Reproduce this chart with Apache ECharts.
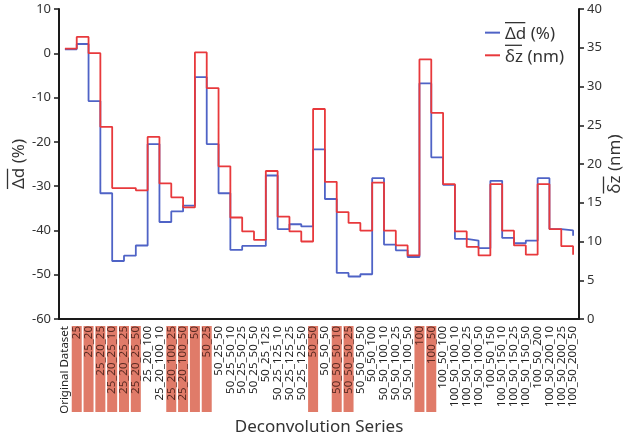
<!DOCTYPE html>
<html>
<head>
<meta charset="utf-8">
<script src="https://cdn.jsdelivr.net/npm/echarts@6/dist/echarts.min.js"></script>
<style>
  html, body { margin: 0; padding: 0; background: #fff; }
  #chart { width: 627px; height: 443px; }
</style>
</head>
<body>
<div id="chart"></div>
<script>
'use strict';

var categories = [
  'Original Dataset', '25', '25_20', '25_20_25', '25_20_25_10', '25_20_25_25', '25_20_25_50',
  '25_20_100', '25_20_100_10', '25_20_100_25', '25_20_100_50',
  '50', '50_25', '50_25_50', '50_25_50_10', '50_25_50_25', '50_25_50_50',
  '50_25_125', '50_25_125_10', '50_25_125_25', '50_25_125_50',
  '50_50', '50_50_50', '50_50_50_10', '50_50_50_25', '50_50_50_50',
  '50_50_100', '50_50_100_10', '50_50_100_25', '50_50_100_50',
  '100', '100_50', '100_50_100', '100_50_100_10', '100_50_100_25', '100_50_100_50',
  '100_50_150', '100_50_150_10', '100_50_150_25', '100_50_150_50',
  '100_50_200', '100_50_200_10', '100_50_200_25', '100_50_200_50'
];

// series picked out with a red box under the axis
var highlighted = [
  '25', '25_20', '25_20_25', '25_20_25_10', '25_20_25_25', '25_20_25_50',
  '25_20_100_25', '25_20_100_50', '50', '50_25',
  '50_50', '50_50_50_10', '50_50_50_25', '100', '100_50'
];

// mean relative change in d (%), left axis
var deltaD = [
  0.9, 2.1, -10.8, -31.6, -46.9, -45.7, -43.4, -20.5, -38.1, -35.7, -34.4,
  -5.4, -20.5, -31.6, -44.4, -43.5, -43.5, -27.6, -39.7, -38.6, -39.1,
  -21.7, -32.9, -49.6, -50.4, -49.9, -28.2, -43.2, -44.5, -46.0,
  -6.8, -23.5, -29.7, -41.9, -42.3, -44.0, -28.8, -41.7, -42.9, -42.3,
  -28.2, -39.7, -40.0, -41.2
];

// mean delta z (nm), right axis
var deltaZ = [
  34.9, 36.4, 34.3, 24.8, 16.9, 16.9, 16.6, 23.5, 17.5, 15.7, 14.4,
  34.4, 29.8, 19.7, 13.1, 11.3, 10.2, 19.1, 13.2, 11.3, 10.0,
  27.1, 17.7, 13.8, 12.4, 11.4, 17.6, 11.4, 9.5, 8.2,
  33.5, 26.6, 17.4, 11.3, 9.3, 8.2, 17.4, 11.4, 9.5, 8.3,
  17.4, 11.6, 9.4, 8.3
];

var nameD = 'Δd (%)';
var nameZ = 'δz (nm)';

var FONT = '"Noto Sans", "DejaVu Sans", sans-serif';
var NAME_SIZE = 17;
var BLUE = '#4f63c6';
var RED = '#e8393c';
var INK = '#333';

// width of the overlined symbol part ("Δd", "δz"), to size the bar above it
function textWidth(s) {
  var ctx = document.createElement('canvas').getContext('2d');
  ctx.font = NAME_SIZE + 'px ' + FONT;
  return ctx.measureText(s).width;
}

// two-line rich label: a thin bar, then the text
function overlined(name) {
  var sym = name.split(' ')[0];
  var key = sym === 'Δd' ? 'olD' : 'olZ';
  return '{' + key + '| }\n{t|' + name + '}';
}

var olRich = {
  olD: {width: textWidth('Δd') - 1, height: 1.3, lineHeight: 3, fontSize: 1, backgroundColor: INK, align: 'left'},
  olZ: {width: textWidth('δz') - 1, height: 1.3, lineHeight: 3, fontSize: 1, backgroundColor: INK, align: 'left'},
  t: {fontSize: NAME_SIZE, fontFamily: FONT, color: INK, align: 'left', lineHeight: 20}
};

var chart = echarts.init(document.getElementById('chart'), null, {renderer: 'canvas'});

var axisCommon = {
  axisLine: {show: true, lineStyle: {color: '#1a1a1a', width: 2}},
  axisTick: {show: true, length: 5, lineStyle: {color: '#1a1a1a', width: 1.5}},
  splitLine: {show: false},
  axisLabel: {color: INK, fontSize: 13, fontFamily: FONT},
  nameTextStyle: {color: INK, fontSize: NAME_SIZE, fontFamily: FONT, rich: olRich},
  nameLocation: 'middle',
  nameMoveOverlap: false
};

var option = {
  animation: false,
  backgroundColor: '#fff',
  textStyle: {fontFamily: FONT},
  grid: {left: 59, right: 48, top: 9, bottom: 124, containLabel: false, outerBoundsMode: 'none'},
  legend: {
    orient: 'vertical',
    left: 480,
    top: 17,
    itemGap: 2,
    itemWidth: 15,
    itemHeight: 2,
    icon: 'rect',
    formatter: overlined,
    textStyle: {color: INK, fontSize: NAME_SIZE, fontFamily: FONT, rich: olRich},
    data: [nameD, nameZ]
  },
  xAxis: {
    type: 'category',
    data: categories,
    boundaryGap: true,
    name: 'Deconvolution Series',
    nameGap: 100,
    nameLocation: 'middle',
    nameMoveOverlap: false,
    nameTextStyle: {color: INK, fontSize: NAME_SIZE, fontFamily: FONT},
    axisLine: {onZero: false, lineStyle: {color: '#1a1a1a', width: 2}},
    axisTick: {alignWithLabel: true, length: 5, lineStyle: {color: '#1a1a1a', width: 1.5}},
    axisLabel: {
      interval: 0,
      rotate: 90,
      margin: 7,
      fontSize: 11.5,
      fontFamily: FONT,
      color: '#222',
      formatter: function (v) {
        return highlighted.indexOf(v) >= 0 ? '{hl|' + v + '}' : '{n|' + v + '}';
      },
      rich: {
        hl: {backgroundColor: '#e07b69', color: '#5a2a22', width: 86, height: 10, align: 'right', fontSize: 11.5, fontFamily: FONT},
        n: {color: '#222', fontSize: 11.5, fontFamily: FONT}
      }
    }
  },
  yAxis: [
    echarts.util.merge({
      type: 'value',
      position: 'left',
      min: -60, max: 10, interval: 10,
      name: overlined(nameD),
      nameGap: 30
    }, axisCommon),
    echarts.util.merge({
      type: 'value',
      position: 'right',
      min: 0, max: 40, interval: 5,
      name: overlined(nameZ),
      nameGap: 23
    }, axisCommon)
  ],
  series: [
    {
      name: nameD,
      type: 'line',
      step: 'end',
      yAxisIndex: 0,
      symbol: 'none',
      color: BLUE,
      lineStyle: {color: BLUE, width: 1.8},
      data: deltaD
    },
    {
      name: nameZ,
      type: 'line',
      step: 'end',
      yAxisIndex: 1,
      symbol: 'none',
      color: RED,
      lineStyle: {color: RED, width: 1.8},
      data: deltaZ
    }
  ]
};

chart.setOption(option);
</script>
</body>
</html>
